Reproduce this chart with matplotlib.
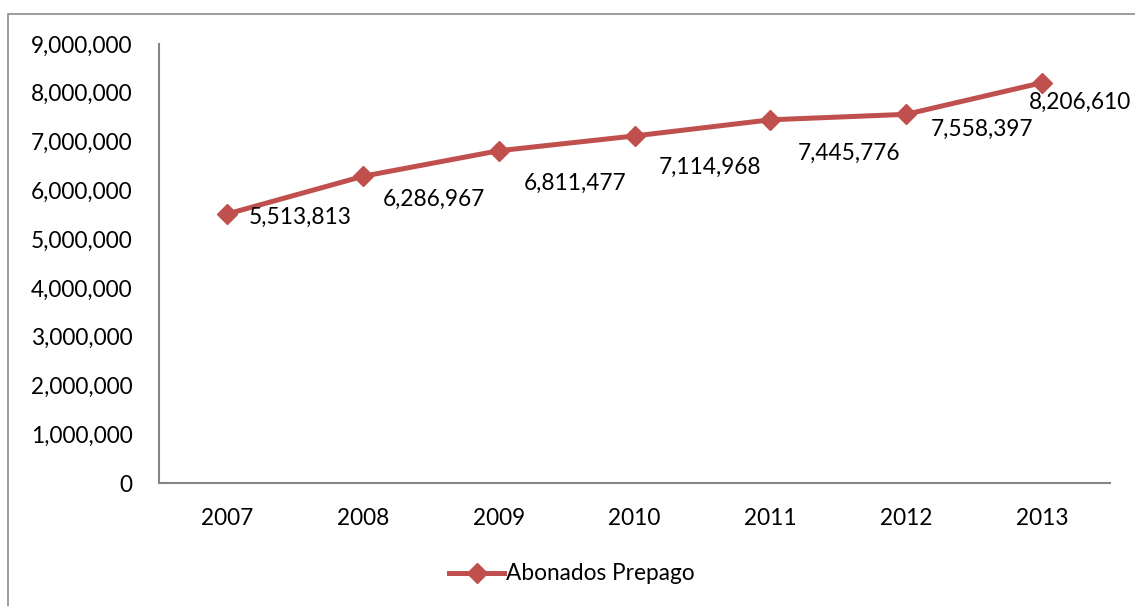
import matplotlib
matplotlib.use("Agg")
import matplotlib.pyplot as plt
from matplotlib.patches import Rectangle
from matplotlib.lines import Line2D
from matplotlib.ticker import FuncFormatter

years = ["2007", "2008", "2009", "2010", "2011", "2012", "2013"]
abonados = [5513813, 6286967, 6811477, 7114968, 7445776, 7558397, 8206610]
series_name = "Abonados Prepago"

# label offsets in pixels (styling)
label_offsets = [(22, -3), (20, -23), (25, -33), (24, -31), (27, -34), (25, -15), (-13, -20)]

plt.rcParams['font.family'] = ['Lato', 'DejaVu Sans']
W, H = 1135, 606
fs = 16.3
fig = plt.figure(figsize=(W / 100, H / 100), dpi=100)

# outer frame
fig.patches.append(Rectangle((8 / W, -0.05), 1.1, 1 - 14 / H + 0.05, transform=fig.transFigure,
                             fill=False, edgecolor='#8c8c8c', linewidth=1.2))

ax = fig.add_axes([159 / W, (H - 483) / H, 951 / W, 439 / H])
color = '#C0504D'
x = list(range(len(years)))
ax.plot(x, abonados, color=color, linewidth=3.6, marker='D', markersize=10,
        solid_capstyle='round', zorder=3)
ax.set_xlim(-0.5, len(years) - 0.5)
ax.set_ylim(0, 9000000)
ax.set_yticks(range(0, 9000001, 1000000))
ax.yaxis.set_major_formatter(FuncFormatter(lambda v, p: f"{int(v):,}"))
ax.set_xticks(x)
ax.set_xticklabels(years)
ax.tick_params(axis='both', length=0, labelsize=fs, colors='black')
ax.tick_params(axis='y', pad=19)
ax.tick_params(axis='x', pad=18)
for s in ['top', 'right']:
    ax.spines[s].set_visible(False)
for s in ['left', 'bottom']:
    ax.spines[s].set_color('#868686')
    ax.spines[s].set_linewidth(1.5)

for xi, v, (dx, dy) in zip(x, abonados, label_offsets):
    ax.annotate(f"{v:,}", (xi, v), xytext=(dx, dy), textcoords='offset pixels',
                ha='left', va='center', fontsize=fs)

handle = Line2D([], [], color=color, linewidth=3.6, marker='D', markersize=10)
fig.legend([handle], [series_name], loc='center', bbox_to_anchor=(572 / W, 1 - 574 / H),
           frameon=False, fontsize=fs, handlelength=2.4, handletextpad=0.1)

fig.savefig("out.png", dpi=100)
